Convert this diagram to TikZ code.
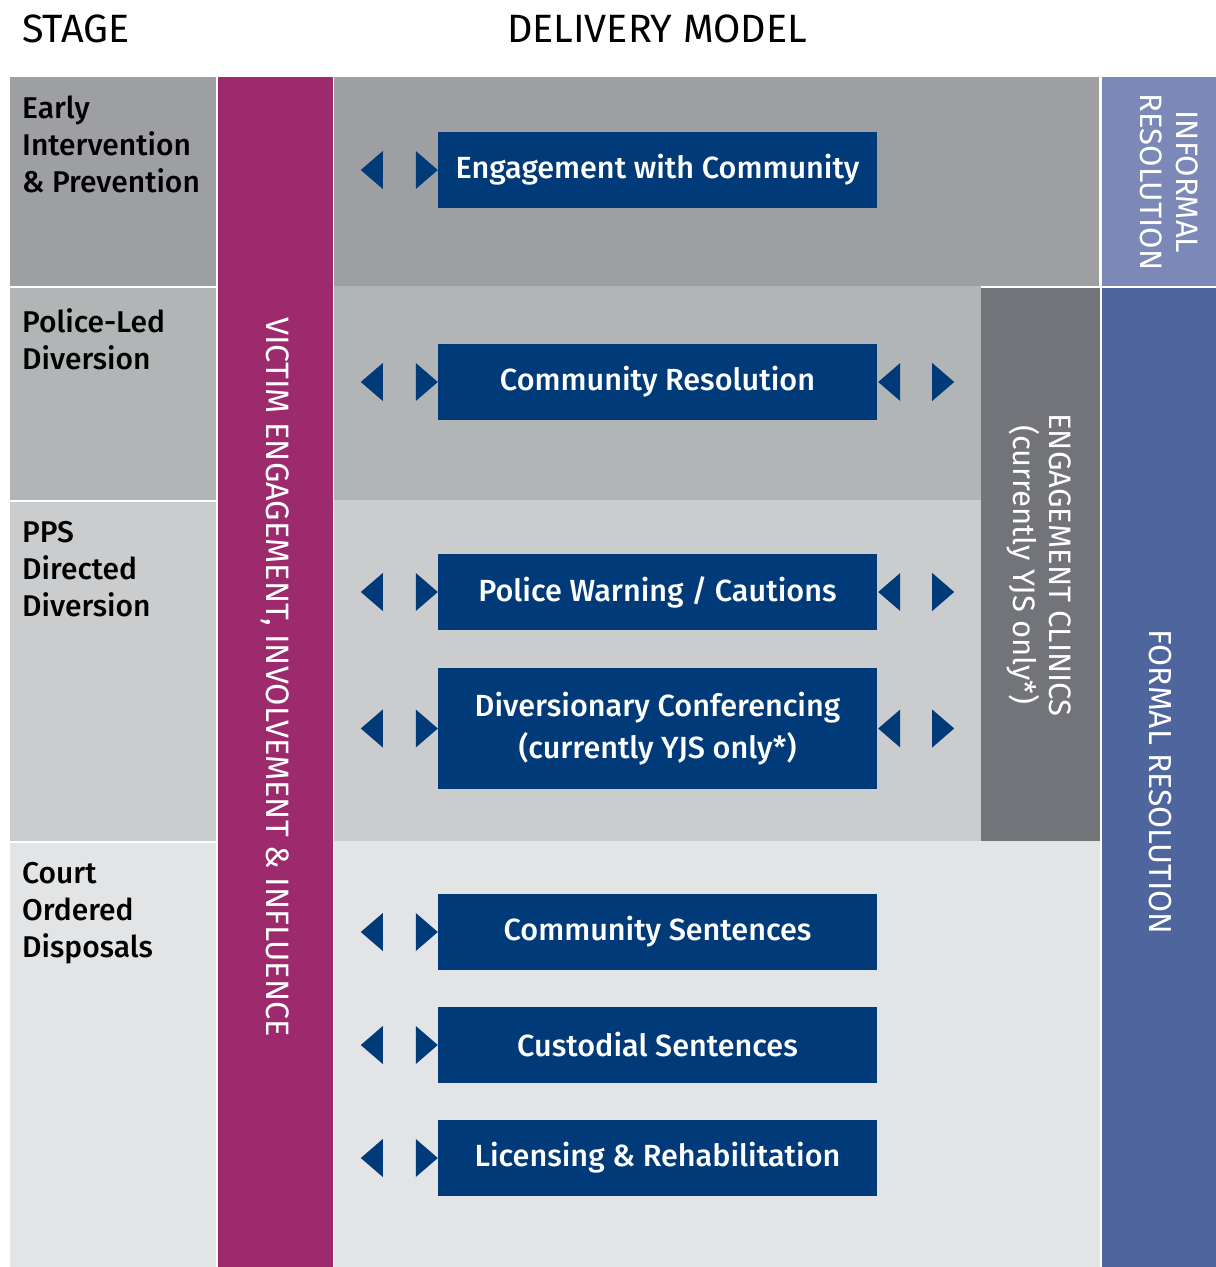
\documentclass[tikz,border=0pt]{standalone}
\usepackage{fontspec}
\setmainfont{Fira Sans}[BoldFont={Fira Sans Medium}]
\usetikzlibrary{calc}

\definecolor{rowA}{HTML}{9E9FA3}
\definecolor{rowB}{HTML}{B2B5B6}
\definecolor{rowC}{HTML}{CBCCCE}
\definecolor{rowD}{HTML}{E3E4E6}
\definecolor{victim}{HTML}{9D2A6C}
\definecolor{clinic}{HTML}{727479}
\definecolor{informal}{HTML}{7B88B8}
\definecolor{formal}{HTML}{4F659E}
\definecolor{navy}{HTML}{003A78}

\tikzset{
  bluebox/.style={fill=navy, text=white, inner sep=0pt, minimum width=439pt,
    minimum height=76pt, align=center, font=\bfseries\fontsize{30.6}{42}\selectfont},
  stagelabel/.style={anchor=north west, inner sep=0pt, align=left, text=black,
    font=\bfseries\fontsize{30}{37}\selectfont},
  header/.style={inner sep=0pt, anchor=base west, text=black,
    font=\fontsize{39.5}{44}\selectfont},
  vertlabel/.style={rotate=-90, inner sep=0pt, text=white, align=center,
    font=\fontsize{31}{36}\selectfont},
  tri/.style={fill=navy},
}

% pair of triangles to the left of a box
\newcommand{\westpair}[1]{%
  \fill[tri] ($(#1.west)+(-77,0)$) -- ($(#1.west)+(-55,19)$) -- ($(#1.west)+(-55,-19)$) -- cycle;
  \fill[tri] ($(#1.west)+(-22,19)$) -- ($(#1.west)+(-22,-19)$) -- (#1.west) -- cycle;}
% pair of triangles to the right of a box
\newcommand{\eastpair}[1]{%
  \fill[tri] ($(#1.east)+(1,0)$) -- ($(#1.east)+(23,19)$) -- ($(#1.east)+(23,-19)$) -- cycle;
  \fill[tri] ($(#1.east)+(55,19)$) -- ($(#1.east)+(55,-19)$) -- ($(#1.east)+(77,0)$) -- cycle;}

\begin{document}
\begin{tikzpicture}[x=1pt, y=-1pt]
\useasboundingbox (0,0) rectangle (1216,1267);
\fill[white] (0,0) rectangle (1216,1267);

% stage column
\fill[rowA] (10,77) rectangle (216,286);
\fill[rowB] (10,288) rectangle (216,500);
\fill[rowC] (10,502) rectangle (216,841);
\fill[rowD] (10,843) rectangle (216,1267);

% victim engagement band
\fill[victim] (217.5,77) rectangle (333.3,1267);

% delivery model rows
\fill[rowA] (334,77) rectangle (1099,286);
\fill[rowB] (334,286) rectangle (981,500);
\fill[rowC] (334,500) rectangle (981,841);
\fill[rowD] (334,841) rectangle (1099.5,1267);

% engagement clinics
\fill[clinic] (981,287.5) rectangle (1099.5,841);

% resolution columns
\fill[informal] (1101.5,77) rectangle (1216,286);
\fill[formal] (1101.5,288) rectangle (1216,1267);

% headers
\node[header] (hstage) at (22,42) {STAGE};
\node[header, anchor=base] (hmodel) at (657,42) {DELIVERY MODEL};

% stage labels
\node[stagelabel] (s1) at (22,96) {Early\\Intervention\\\& Prevention};
\node[stagelabel] (s2) at (22,308) {Police-Led\\Diversion};
\node[stagelabel] (s3) at (22,521) {PPS\\Directed\\Diversion};
\node[stagelabel] (s4) at (22,862) {Court\\Ordered\\Disposals};

% vertical labels
\node[vertlabel, font=\fontsize{32.4}{36}\selectfont] (victim) at (275,677) {VICTIM ENGAGEMENT, INVOLVEMENT \& INFLUENCE};
\node[vertlabel] (clinics) at (1039,565) {ENGAGEMENT CLINICS\\(currently YJS only*)};
\node[vertlabel] (informal) at (1169,182) {INFORMAL\\RESOLUTION};
\node[vertlabel, font=\fontsize{31.8}{36}\selectfont] (formal) at (1160,782) {FORMAL RESOLUTION};

% delivery boxes
\node[bluebox] (b1) at (657.5,170) {Engagement with Community};
\node[bluebox] (b2) at (657.5,382) {Community Resolution};
\node[bluebox] (b3) at (657.5,592) {Police Warning / Cautions};
\node[bluebox, minimum height=121pt] (b4) at (657.5,728.5) {Diversionary Conferencing\\(currently YJS only*)};
\node[bluebox] (b5) at (657.5,932) {Community Sentences};
\node[bluebox] (b6) at (657.5,1045) {Custodial Sentences};
\node[bluebox] (b7) at (657.5,1158) {Licensing \& Rehabilitation};

% triangle markers
\westpair{b1}
\westpair{b2}\eastpair{b2}
\westpair{b3}\eastpair{b3}
\westpair{b4}\eastpair{b4}
\westpair{b5}
\westpair{b6}
\westpair{b7}
\end{tikzpicture}
\end{document}
